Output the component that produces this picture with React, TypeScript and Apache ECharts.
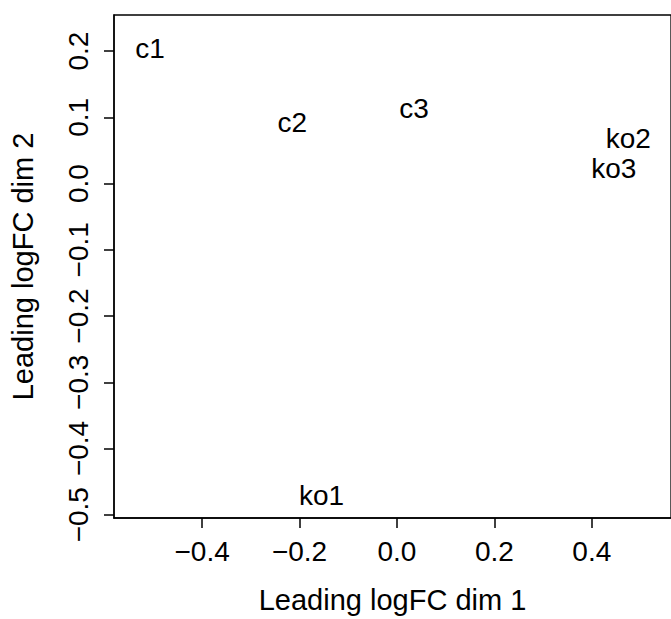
import React, { useEffect, useRef } from "react";
import * as echarts from "echarts";

const sampleNames = ["c1", "c2", "c3", "ko1", "ko2", "ko3"];
const dim1Values = [-0.507, -0.215, 0.035, -0.155, 0.475, 0.445];
const dim2Values = [0.2046, 0.0929, 0.1136, -0.4712, 0.0678, 0.0231];
const xTickValues = [-0.4, -0.2, 0.0, 0.2, 0.4];
const yTickValues = [-0.5, -0.4, -0.3, -0.2, -0.1, 0.0, 0.1, 0.2];
const xTitle = "Leading logFC dim 1";
const yTitle = "Leading logFC dim 2";

const FONT = "'Liberation Sans', Arial, Helvetica, sans-serif";
const FS = 28;
const FS_TITLE = 29;

const fmt = (v: number) => {
  const r = Math.round(v * 10) / 10;
  return (r < 0 ? "\u2212" : "") + Math.abs(r).toFixed(1);
};

export default function App() {
  const ref = useRef<HTMLDivElement>(null);
  useEffect(() => {
    if (!ref.current) return;
    const chart = echarts.init(ref.current, undefined, { renderer: "svg" });
    const data = sampleNames.map((n, i) => ({ name: n, value: [dim1Values[i], dim2Values[i]] }));
    chart.setOption({
      animation: false,
      backgroundColor: "#ffffff",
      grid: {
        left: 109.3,
        right: -1,
        top: 15,
        bottom: 97.7,
        show: true,
        borderColor: "#000",
        borderWidth: 1.3,
        containLabel: false,
      },
      xAxis: {
        type: "value",
        min: -0.5809,
        max: 0.5626,
        splitLine: { show: false },
        axisLine: { show: true, onZero: false, lineStyle: { color: "#000", width: 1.5 } },
        axisTick: {
          show: true,
          length: 10,
          inside: false,
          customValues: xTickValues,
          lineStyle: { color: "#000", width: 1.5 },
        },
        axisLabel: {
          customValues: xTickValues,
          formatter: (v: number) => fmt(v),
          color: "#000",
          fontFamily: FONT,
          fontSize: FS,
          margin: 19,
        },
        name: xTitle,
        nameLocation: "middle",
        nameGap: 67,
        nameTextStyle: { color: "#000", fontFamily: FONT, fontSize: FS_TITLE },
      },
      yAxis: {
        type: "value",
        min: -0.505,
        max: 0.2546,
        splitLine: { show: false },
        axisLine: { show: true, onZero: false, lineStyle: { color: "#000", width: 1.5 } },
        axisTick: {
          show: true,
          length: 10,
          inside: false,
          customValues: yTickValues,
          lineStyle: { color: "#000", width: 1.5 },
        },
        axisLabel: {
          customValues: yTickValues,
          formatter: (v: number) => fmt(v),
          rotate: 90,
          color: "#000",
          fontFamily: FONT,
          fontSize: FS,
          margin: 22,
        },
        name: yTitle,
        nameLocation: "middle",
        nameGap: 77,
        nameRotate: 90,
        nameTextStyle: { color: "#000", fontFamily: FONT, fontSize: FS_TITLE },
      },
      series: [
        {
          type: "scatter",
          data,
          symbol: "circle",
          symbolSize: 0.5,
          itemStyle: { color: "#ffffff", opacity: 1 },
          label: {
            show: true,
            position: [0.25, 0.25],
            align: "center",
            verticalAlign: "middle",
            formatter: (p: any) => p.name,
            color: "#000000",
            opacity: 1,
            textBorderWidth: 0,
            fontFamily: FONT,
            fontSize: FS,
          },
          emphasis: { disabled: true },
        },
      ],
    });
    return () => chart.dispose();
  }, []);
  return (
    <div
      ref={ref}
      style={{ position: "fixed", left: 0, top: 0, width: 671, height: 619, background: "#fff" }}
    />
  );
}
